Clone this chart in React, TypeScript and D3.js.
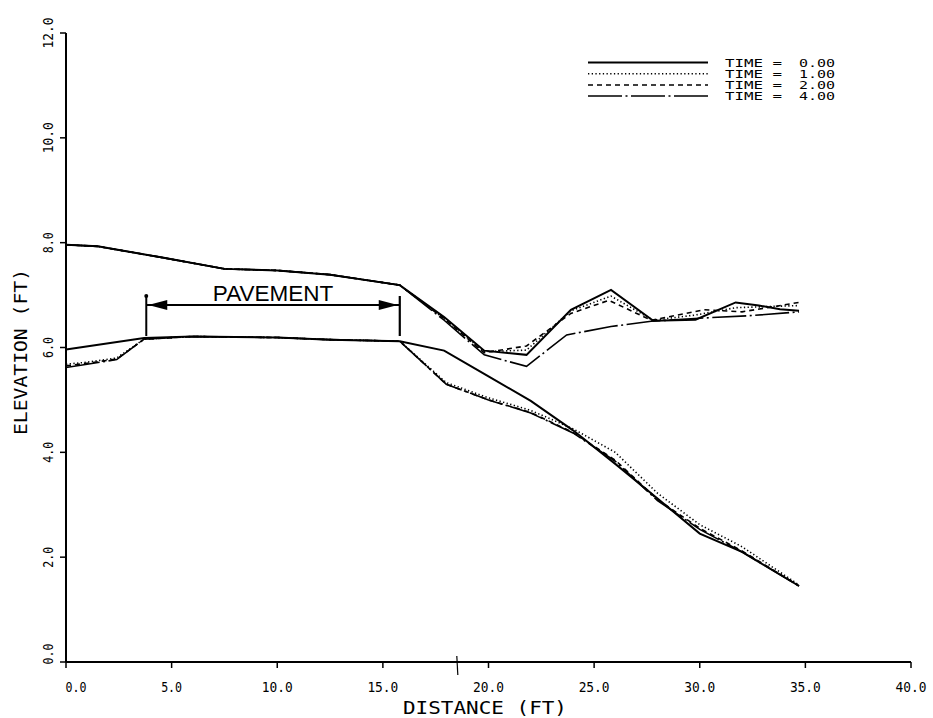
import React from "react";
import * as d3 from "d3";

// ---------- data ----------
const xTicks = [0, 5, 10, 15, 20, 25, 30, 35, 40];
const yTicks = [0, 2, 4, 6, 8, 10, 12];
const times = ["0.00", "1.00", "2.00", "4.00"];

// upper profile, common to all times up to the pavement edge
const upperCommonDist = [0, 1.5, 4.5, 7.5, 10, 12.5, 15.8];
const upperCommonElev = [7.96, 7.93, 7.72, 7.5, 7.47, 7.39, 7.19];

const upperTail0Dist = [17.9, 19.8, 21.8, 23.9, 25.8, 27.8, 29.8, 31.7, 32.8, 33.8, 34.7];
const upperTail0Elev = [6.58, 5.94, 5.86, 6.72, 7.1, 6.51, 6.53, 6.86, 6.8, 6.73, 6.7];
const upperTail1Dist = [17.9, 19.8, 21.8, 23.9, 25.8, 27.8, 29.8, 31.7, 34.7];
const upperTail1Elev = [6.55, 5.92, 5.95, 6.7, 6.98, 6.52, 6.62, 6.76, 6.8];
const upperTail2Dist = [17.9, 19.8, 21.8, 23.9, 25.7, 27.7, 30.2, 32.0, 34.7];
const upperTail2Elev = [6.55, 5.9, 6.03, 6.65, 6.9, 6.52, 6.72, 6.68, 6.86];
const upperTail4Dist = [17.9, 19.8, 21.8, 23.7, 25.8, 27.7, 30.5, 32.5, 34.7];
const upperTail4Elev = [6.52, 5.86, 5.64, 6.24, 6.4, 6.5, 6.57, 6.61, 6.68];

// lower (embankment) profile
const lower0Dist = [0, 3.7, 6, 10, 12.5, 15.8, 17.9, 20, 22, 24, 26, 28, 30, 32, 34.7];
const lower0Elev = [5.96, 6.18, 6.21, 6.19, 6.15, 6.12, 5.94, 5.45, 4.98, 4.42, 3.78, 3.12, 2.45, 2.1, 1.45];
const lowerDist = [0, 1, 2.4, 3.7, 6, 10, 12.5, 15.8, 18, 20, 22, 24, 26, 28, 30, 32, 34.7];
const lower1Elev = [5.68, 5.72, 5.8, 6.16, 6.21, 6.19, 6.15, 6.12, 5.33, 5.04, 4.8, 4.45, 4.0, 3.22, 2.62, 2.2, 1.47];
const lower2Elev = [5.65, 5.7, 5.78, 6.16, 6.21, 6.19, 6.15, 6.12, 5.3, 5.0, 4.76, 4.38, 3.85, 3.1, 2.55, 2.12, 1.45];
const lower4Elev = [5.62, 5.68, 5.77, 6.16, 6.21, 6.19, 6.15, 6.12, 5.3, 5.0, 4.75, 4.37, 3.83, 3.08, 2.53, 2.1, 1.45];

const pavementStart = 3.8;
const pavementEnd = 15.8;
const markerDist = 18.5;

// ---------- layout ----------
const W = 933;
const H = 718;
const x = d3.scaleLinear().domain([0, 40]).range([66, 911]);
const y = d3.scaleLinear().domain([0, 12]).range([662, 33]);

const zip = (xs: number[], ys: number[]) => xs.map((d, i) => [d, ys[i]] as [number, number]);
const line = d3
  .line<[number, number]>()
  .x((d) => x(d[0]))
  .y((d) => y(d[1]));

const dashes = ["", "1.3 2.4", "5 4", "34 3.5 2 3.5"];

const series = [
  {
    upper: zip(upperCommonDist.concat(upperTail0Dist), upperCommonElev.concat(upperTail0Elev)),
    lower: zip(lower0Dist, lower0Elev),
  },
  {
    upper: zip(upperCommonDist.concat(upperTail1Dist), upperCommonElev.concat(upperTail1Elev)),
    lower: zip(lowerDist, lower1Elev),
  },
  {
    upper: zip(upperCommonDist.concat(upperTail2Dist), upperCommonElev.concat(upperTail2Elev)),
    lower: zip(lowerDist, lower2Elev),
  },
  {
    upper: zip(upperCommonDist.concat(upperTail4Dist), upperCommonElev.concat(upperTail4Elev)),
    lower: zip(lowerDist, lower4Elev),
  },
];

const mono = "'DejaVu Sans Mono', 'Liberation Mono', monospace";

export default function App() {
  const y0 = y(0);
  const x0 = x(0);
  const pavY = 305;
  const pavTop = 296;
  const pavBot = 336;
  const px1 = x(pavementStart);
  const px2 = x(pavementEnd);
  const legendX1 = 588;
  const legendX2 = 708;
  const legendY = [62.5, 73.7, 84.9, 96.1];
  return (
    <svg
      width={W}
      height={H}
      style={{ position: "absolute", left: 0, top: 0, background: "#fff" }}
    >
      {/* axes */}
      <line x1={x0} y1={y(12)} x2={x0} y2={y0} stroke="#000" strokeWidth={2} />
      <line x1={x0} y1={y0} x2={x(40)} y2={y0} stroke="#000" strokeWidth={2} />
      {xTicks.map((t) => (
        <g key={"xt" + t}>
          <line x1={x(t)} y1={y0} x2={x(t)} y2={y0 + 6} stroke="#000" strokeWidth={1.5} />
          <text
            x={x(t) + (t === 0 ? 10 : 0)}
            y={y0 + 30}
            textAnchor="middle"
            fontFamily={mono}
            fontSize={14}
            textLength={t >= 10 ? 31 : 21}
            lengthAdjust="spacingAndGlyphs"
          >
            {t.toFixed(1)}
          </text>
        </g>
      ))}
      {yTicks.map((t) => (
        <g key={"yt" + t}>
          <line x1={x0 - 6} y1={y(t)} x2={x0} y2={y(t)} stroke="#000" strokeWidth={1.5} />
          <text
            transform={`translate(${x0 - 13},${y(t) + (t === 0 ? -8 : 0)}) rotate(-90)`}
            textAnchor="middle"
            fontFamily={mono}
            fontSize={14}
            textLength={t >= 10 ? 31 : 21}
            lengthAdjust="spacingAndGlyphs"
          >
            {t.toFixed(1)}
          </text>
        </g>
      ))}
      <line x1={x(markerDist)} y1={y0 - 6} x2={x(markerDist) + 1} y2={y0 + 13} stroke="#000" strokeWidth={1.2} />
      <text
        x={485}
        y={714}
        textAnchor="middle"
        fontFamily={mono}
        fontSize={17}
        textLength={164}
        lengthAdjust="spacingAndGlyphs"
      >
        DISTANCE (FT)
      </text>
      <text
        transform={`translate(27,352) rotate(-90)`}
        textAnchor="middle"
        fontFamily={mono}
        fontSize={17}
        textLength={166}
        lengthAdjust="spacingAndGlyphs"
      >
        ELEVATION (FT)
      </text>

      {/* profiles */}
      {series.map((s, i) => (
        <g key={"s" + i} fill="none" stroke="#000" strokeWidth={i === 0 ? 2 : 1.6} strokeDasharray={dashes[i]}>
          <path d={line(s.upper) || ""} />
          <path d={line(s.lower) || ""} />
        </g>
      ))}

      {/* pavement annotation */}
      <line x1={px1} y1={pavTop} x2={px1} y2={pavBot} stroke="#000" strokeWidth={2} />
      <circle cx={px1} cy={pavTop} r={2} fill="#000" />
      <line x1={px2} y1={pavTop} x2={px2} y2={pavBot} stroke="#000" strokeWidth={2.2} />
      <line x1={px1} y1={pavY} x2={px2} y2={pavY} stroke="#000" strokeWidth={2} />
      <path d={`M${px1 + 2},${pavY} L${px1 + 21},${pavY - 5} L${px1 + 21},${pavY + 5} Z`} fill="#000" />
      <path d={`M${px2 - 2},${pavY} L${px2 - 21},${pavY - 5} L${px2 - 21},${pavY + 5} Z`} fill="#000" />
      <text
        x={(px1 + px2) / 2}
        y={301}
        textAnchor="middle"
        fontFamily="'Liberation Sans', Arial, sans-serif"
        fontSize={22.5}
      >
        PAVEMENT
      </text>

      {/* legend */}
      {times.map((t, i) => (
        <g key={"lg" + i}>
          <line
            x1={legendX1}
            y1={legendY[i]}
            x2={legendX2}
            y2={legendY[i]}
            stroke="#000"
            strokeWidth={i === 0 ? 1.8 : 1.5}
            strokeDasharray={dashes[i]}
          />
          <text
            x={725}
            y={legendY[i] + 4}
            fontFamily={mono}
            fontSize={10}
            textLength={57}
            lengthAdjust="spacingAndGlyphs"
          >
            TIME =
          </text>
          <text
            x={835}
            y={legendY[i] + 4}
            textAnchor="end"
            fontFamily={mono}
            fontSize={10}
            textLength={36}
            lengthAdjust="spacingAndGlyphs"
          >
            {t}
          </text>
        </g>
      ))}
    </svg>
  );
}
